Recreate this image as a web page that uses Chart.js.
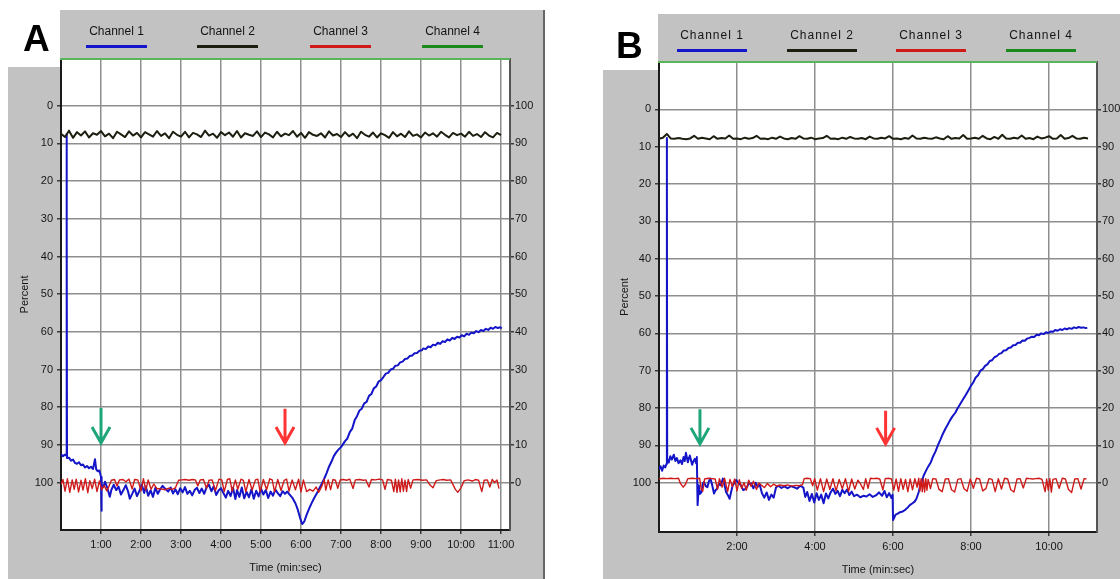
<!DOCTYPE html>
<html>
<head>
<meta charset="utf-8">
<title>Channel recordings</title>
<script src="https://cdn.jsdelivr.net/npm/chart.js@4.4.1/dist/chart.umd.min.js"></script>
<style>
  html, body { margin: 0; padding: 0; background: #fff; }
  #stage { position: relative; width: 1120px; height: 579px; overflow: hidden; font-family: "Liberation Sans", Arial, sans-serif; }
  .gray { position: absolute; background: #c2c2c2; }
  .edge { position: absolute; background: #666; }
  canvas { position: absolute; top: 0; }
  .tag { position: absolute; font: bold 37px "Liberation Sans", Arial, sans-serif; color: #000; line-height: 1; }
  .key { position: absolute; text-align: center; font-size: 12px; line-height: 14px; color: #141414; white-space: nowrap; }
  .keyline { position: absolute; height: 3px; }
</style>
</head>
<body>
<div id="stage">
  <!-- panel A frame -->
  <div class="gray" style="left:60px;top:10px;width:484px;height:569px"></div>
  <div class="gray" style="left:8px;top:67px;width:53px;height:512px"></div>
  <div class="edge" style="left:543px;top:10px;width:2px;height:569px"></div>
  <!-- panel B frame -->
  <div class="gray" style="left:658px;top:14px;width:462px;height:565px"></div>
  <div class="gray" style="left:603px;top:70px;width:56px;height:509px"></div>

  <canvas id="chartA" width="560" height="579" style="left:0"></canvas>
  <canvas id="chartB" width="560" height="579" style="left:560px"></canvas>

  <div class="tag" style="left:23px;top:20px">A</div>
  <div class="tag" style="left:616px;top:27px">B</div>
  <div id="keysA"></div>
  <div id="keysB"></div>
</div>
<script>
// channel legend
const channelNames = ['Channel 1', 'Channel 2', 'Channel 3', 'Channel 4'];
const channelColors = ['#1414c8', '#1e1e10', '#d01a1a', '#1a8a1a'];

// x ticks (minutes) and y ticks (percent)
const ticksA = [1, 2, 3, 4, 5, 6, 7, 8, 9, 10, 11];
const ticksB = [2, 4, 6, 8, 10];
const percentTicks = [0, 10, 20, 30, 40, 50, 60, 70, 80, 90, 100];

// ---------- panel A ----------
// channel 1: [minutes, percent]
const aChannel1 = [
  [0.00, 92.5], [0.05, 93.0], [0.10, 92.6], [0.13, 92.8], [0.14, 7.5], [0.145, 33.5], [0.15, 93.5],
  [0.20, 93.4], [0.25, 94.2], [0.30, 93.9], [0.35, 94.8], [0.40, 95.0], [0.45, 94.6], [0.50, 95.4],
  [0.55, 95.2], [0.60, 96.0], [0.65, 95.6], [0.70, 96.2], [0.75, 95.8], [0.80, 96.4], [0.85, 93.8],
  [0.88, 96.5], [0.92, 97.0], [0.96, 96.8], [1.00, 98.5], [1.01, 107.5], [1.02, 100.5], [1.06, 101.2],
  [1.10, 99.8], [1.16, 101.5], [1.22, 103.8], [1.26, 101.9], [1.32, 100.6], [1.38, 102.0], [1.44, 101.1],
  [1.50, 103.2], [1.56, 102.0], [1.62, 100.7], [1.68, 102.5], [1.72, 104.3], [1.78, 103.0], [1.84, 101.6],
  [1.90, 103.6], [1.96, 102.2], [2.02, 100.5], [2.08, 102.8], [2.12, 101.0], [2.18, 103.5], [2.24, 102.1],
  [2.30, 103.8], [2.36, 101.4], [2.42, 103.0], [2.48, 101.8], [2.54, 100.9], [2.60, 101.6], [2.68, 102.4],
  [2.74, 101.3], [2.80, 102.9], [2.86, 101.8], [2.92, 103.1], [2.98, 101.5], [3.04, 102.6], [3.10, 101.2],
  [3.16, 103.0], [3.22, 102.2], [3.28, 103.4], [3.34, 102.0], [3.40, 101.4], [3.46, 102.8], [3.52, 101.6],
  [3.58, 103.0], [3.64, 101.2], [3.70, 100.6], [3.76, 102.3], [3.82, 101.0], [3.88, 103.3], [3.94, 102.1],
  [4.00, 101.5], [4.06, 102.8], [4.12, 104.0], [4.18, 102.2], [4.24, 103.6], [4.30, 101.4], [4.36, 104.4],
  [4.40, 102.0], [4.46, 103.8], [4.52, 101.3], [4.58, 104.2], [4.64, 102.5], [4.70, 103.9], [4.76, 101.8],
  [4.82, 104.3], [4.88, 102.2], [4.94, 103.7], [5.00, 101.6], [5.06, 103.2], [5.12, 102.0], [5.18, 104.1],
  [5.24, 102.4], [5.30, 103.5], [5.36, 101.9], [5.42, 102.8], [5.48, 103.6], [5.54, 102.3], [5.60, 103.0],
  [5.66, 102.4], [5.70, 103.0], [5.78, 104.0], [5.86, 105.5], [5.92, 107.2], [5.98, 109.5], [6.03, 111.0],
  [6.08, 110.4], [6.14, 108.6], [6.20, 107.0], [6.26, 105.6], [6.32, 104.3], [6.40, 102.8], [6.46, 101.5],
  [6.52, 100.3], [6.58, 99.0], [6.64, 97.5], [6.70, 95.8], [6.76, 94.5], [6.82, 93.0], [6.88, 92.0],
  [6.94, 91.2], [7.00, 90.6], [7.04, 90.0], [7.10, 89.0], [7.16, 88.3], [7.22, 86.6], [7.28, 85.7],
  [7.34, 83.5], [7.40, 82.4], [7.46, 80.9], [7.52, 80.4], [7.58, 79.0], [7.64, 78.6], [7.70, 77.0],
  [7.76, 76.5], [7.82, 75.0], [7.88, 74.5], [7.94, 73.2], [8.00, 72.8], [8.06, 72.0], [8.12, 71.1],
  [8.18, 70.9], [8.24, 70.0], [8.30, 69.8], [8.36, 69.0], [8.42, 68.9], [8.48, 68.1], [8.54, 67.9],
  [8.60, 67.2], [8.66, 67.1], [8.72, 66.4], [8.78, 66.3], [8.84, 65.7], [8.90, 65.6], [8.96, 65.0],
  [9.02, 64.9], [9.06, 64.4], [9.12, 64.6], [9.18, 63.9], [9.24, 64.1], [9.30, 63.4], [9.36, 63.6],
  [9.42, 62.9], [9.48, 63.2], [9.54, 62.5], [9.60, 62.7], [9.66, 62.0], [9.72, 62.3], [9.78, 61.6],
  [9.84, 61.9], [9.90, 61.3], [9.96, 61.5], [10.02, 60.9], [10.08, 61.2], [10.14, 60.5], [10.20, 60.8],
  [10.26, 60.2], [10.32, 60.4], [10.38, 59.8], [10.44, 60.1], [10.50, 59.5], [10.56, 59.8], [10.62, 59.2],
  [10.68, 59.5], [10.74, 58.9], [10.80, 59.2], [10.86, 58.7], [10.92, 59.0], [10.98, 58.8], [11.02, 59.1]
];
// channel 2: one reading every 0.1 min from 0:00
const aChannel2 = [
  7.4, 8.3, 6.6, 8.5, 7.0, 7.9, 6.8, 8.4, 7.3, 7.7,
  6.7, 8.1, 7.4, 8.6, 6.9, 7.6, 8.3, 6.8, 7.9, 7.2,
  8.4, 7.0, 7.6, 8.2, 6.7, 8.0, 7.3, 8.6, 6.9, 7.7,
  8.2, 6.9, 8.4, 7.2, 7.6, 8.3, 6.6, 7.9, 7.4, 8.5,
  7.0, 7.8, 7.1, 8.2, 6.7, 8.4, 7.3, 7.7, 8.0, 6.8,
  8.3, 7.1, 7.6, 8.4, 6.9, 8.1, 7.4, 7.8, 6.7, 8.2,
  7.2, 8.5, 7.0, 7.7, 8.0, 7.3, 8.4, 6.8, 7.9, 7.5,
  8.3, 7.0, 8.1, 7.4, 8.6, 6.9, 7.7, 8.2, 7.1, 8.4,
  7.3, 7.8, 8.5, 7.0, 8.1, 7.4, 8.3, 6.8, 8.0, 7.6,
  8.4, 7.1, 7.9, 7.3, 8.2, 6.9, 7.7, 8.4, 7.2, 7.8,
  7.4, 8.2, 6.9, 8.0, 7.5, 8.3, 7.0, 7.9, 8.4, 7.2,
  7.8
];
// channel 3: [minutes, percent]
const aChannel3 = [
  [0.00, 100.5], [0.05, 99.2], [0.10, 102.3], [0.16, 99.0], [0.22, 102.6], [0.28, 99.3], [0.33, 101.8],
  [0.38, 99.1], [0.44, 102.5], [0.50, 99.4], [0.55, 102.0], [0.61, 99.0], [0.67, 102.7], [0.72, 99.5],
  [0.78, 101.6], [0.84, 99.1], [0.90, 102.4], [0.96, 99.6], [1.02, 101.9], [1.08, 100.8], [1.14, 102.2],
  [1.20, 101.0], [1.26, 99.4], [1.34, 99.2], [1.40, 100.9], [1.46, 99.3], [1.55, 99.2], [1.62, 99.8],
  [1.70, 99.1], [1.78, 101.7], [1.84, 99.2], [1.92, 99.3], [2.00, 102.2], [2.06, 99.0], [2.12, 102.0],
  [2.18, 99.3], [2.25, 101.8], [2.32, 100.4], [2.40, 101.6], [2.50, 101.7], [2.60, 101.9], [2.70, 101.5],
  [2.78, 101.8], [2.86, 101.4], [2.94, 99.4], [3.02, 99.3], [3.10, 99.2], [3.20, 99.4], [3.28, 99.2],
  [3.36, 99.3], [3.42, 100.9], [3.48, 99.3], [3.56, 99.2], [3.64, 101.5], [3.70, 99.4], [3.78, 99.3],
  [3.86, 102.2], [3.95, 99.1], [4.02, 99.3], [4.08, 102.4], [4.16, 99.2], [4.22, 99.0], [4.28, 102.3],
  [4.36, 99.3], [4.42, 101.8], [4.50, 99.1], [4.56, 99.4], [4.62, 102.5], [4.70, 99.2], [4.78, 102.0],
  [4.86, 99.3], [4.92, 99.1], [4.98, 102.4], [5.06, 99.2], [5.14, 101.9], [5.22, 99.0], [5.28, 99.3],
  [5.34, 102.5], [5.42, 99.2], [5.50, 102.1], [5.58, 99.4], [5.64, 99.1], [5.70, 102.3], [5.78, 99.3],
  [5.86, 101.9], [5.94, 99.1], [6.00, 102.5], [6.06, 99.3], [6.14, 102.4], [6.22, 101.8], [6.30, 102.3],
  [6.38, 101.2], [6.44, 102.6], [6.52, 101.0], [6.58, 99.2], [6.62, 102.0], [6.68, 99.3], [6.74, 101.9],
  [6.80, 99.2], [6.86, 99.4], [6.92, 101.5], [6.98, 99.3], [7.06, 99.2], [7.14, 99.4], [7.22, 99.1],
  [7.30, 101.6], [7.36, 99.3], [7.46, 99.2], [7.56, 99.4], [7.62, 99.3], [7.70, 101.2], [7.76, 99.2],
  [7.86, 99.3], [7.96, 99.1], [8.04, 99.3], [8.10, 101.8], [8.16, 99.2], [8.26, 99.4], [8.32, 102.4],
  [8.36, 99.1], [8.40, 102.6], [8.44, 99.3], [8.48, 102.5], [8.52, 99.0], [8.56, 102.3], [8.60, 99.4],
  [8.64, 102.4], [8.68, 99.2], [8.74, 101.5], [8.80, 99.3], [8.92, 99.2], [9.04, 99.4], [9.14, 99.3],
  [9.22, 100.6], [9.30, 101.4], [9.38, 99.5], [9.48, 99.3], [9.56, 99.2], [9.64, 99.4], [9.74, 99.3],
  [9.86, 101.8], [9.92, 102.6], [10.00, 101.4], [10.08, 99.5], [10.18, 99.3], [10.28, 99.6], [10.36, 99.2],
  [10.44, 99.4], [10.52, 102.4], [10.58, 99.4], [10.66, 99.3], [10.72, 101.2], [10.78, 99.2], [10.84, 100.0],
  [10.90, 99.3], [10.95, 101.6]
];
// event markers: minute, arrow start, arrow tip (percent)
const aArrowTimes = [1.0, 5.6];
const aArrowFrom = [80.2, 80.4];
const aArrowTo = [89.5, 89.5];

// ---------- panel B ----------
const bChannel1 = [
  [0.00, 96.5], [0.04, 95.6], [0.08, 96.8], [0.12, 95.4], [0.16, 95.9], [0.19, 95.0], [0.20, 7.7],
  [0.205, 19.7], [0.21, 93.6], [0.25, 94.6], [0.29, 92.9], [0.33, 93.8], [0.38, 92.5], [0.42, 94.2],
  [0.46, 93.4], [0.50, 94.8], [0.55, 94.0], [0.59, 95.0], [0.63, 93.1], [0.66, 94.2], [0.69, 92.0],
  [0.72, 93.5], [0.74, 94.5], [0.77, 93.2], [0.79, 92.7], [0.82, 94.0], [0.85, 95.2], [0.88, 94.3],
  [0.92, 93.6], [0.95, 94.8], [0.97, 93.1], [0.99, 106.0], [1.02, 100.7], [1.05, 103.0], [1.09, 102.5],
  [1.12, 100.4], [1.15, 99.8], [1.20, 100.9], [1.24, 101.2], [1.28, 99.6], [1.32, 98.9], [1.36, 100.5],
  [1.41, 102.9], [1.45, 102.0], [1.49, 101.6], [1.54, 100.2], [1.58, 100.7], [1.64, 98.9], [1.68, 100.6],
  [1.72, 102.5], [1.77, 103.4], [1.81, 104.3], [1.85, 102.4], [1.89, 100.7], [1.94, 100.0], [1.98, 99.3],
  [2.04, 100.1], [2.10, 100.7], [2.16, 102.0], [2.23, 101.6], [2.30, 100.3], [2.36, 100.2], [2.42, 101.5],
  [2.48, 100.0], [2.53, 101.1], [2.58, 100.4], [2.64, 102.8], [2.70, 104.0], [2.76, 102.6], [2.82, 104.6],
  [2.88, 103.2], [2.94, 104.0], [3.00, 101.3], [3.06, 100.8], [3.14, 101.4], [3.22, 101.0], [3.30, 101.5],
  [3.38, 100.9], [3.46, 101.2], [3.54, 101.6], [3.62, 100.8], [3.70, 101.3], [3.75, 103.8], [3.80, 102.5],
  [3.86, 104.9], [3.92, 103.0], [3.98, 105.3], [4.04, 102.8], [4.10, 104.6], [4.16, 103.2], [4.22, 105.5],
  [4.28, 102.9], [4.34, 104.2], [4.40, 102.6], [4.46, 101.6], [4.52, 103.0], [4.58, 102.2], [4.64, 103.6],
  [4.70, 101.9], [4.76, 102.8], [4.82, 101.8], [4.88, 103.3], [4.94, 102.4], [5.00, 103.6], [5.08, 103.2],
  [5.16, 103.9], [5.24, 103.5], [5.32, 103.7], [5.40, 103.1], [5.48, 103.8], [5.56, 103.4], [5.64, 102.6],
  [5.72, 103.5], [5.78, 102.2], [5.84, 103.9], [5.90, 102.8], [5.96, 104.1], [5.99, 103.2], [6.00, 110.0],
  [6.03, 109.4], [6.06, 108.6], [6.12, 108.3], [6.18, 107.9], [6.25, 107.7], [6.32, 107.2], [6.38, 106.6],
  [6.43, 106.0], [6.50, 105.5], [6.56, 105.0], [6.60, 104.3], [6.66, 102.5], [6.70, 100.7], [6.75, 99.2],
  [6.79, 98.0], [6.84, 96.9], [6.90, 95.7], [6.97, 94.5], [7.03, 92.9], [7.09, 91.6], [7.15, 90.0],
  [7.21, 88.6], [7.27, 87.1], [7.34, 85.6], [7.40, 84.5], [7.46, 83.3], [7.52, 82.3], [7.60, 81.2],
  [7.66, 80.0], [7.72, 79.0], [7.80, 77.6], [7.86, 76.6], [7.92, 75.5], [8.00, 74.0], [8.06, 73.1],
  [8.12, 71.8], [8.18, 71.2], [8.24, 70.0], [8.30, 69.6], [8.36, 68.7], [8.42, 68.3], [8.48, 67.4],
  [8.54, 67.2], [8.60, 66.4], [8.66, 66.1], [8.72, 65.5], [8.78, 65.3], [8.84, 64.6], [8.90, 64.5],
  [8.96, 63.9], [9.02, 63.8], [9.08, 63.2], [9.14, 63.1], [9.20, 62.5], [9.26, 62.5], [9.32, 61.9],
  [9.38, 62.0], [9.44, 61.4], [9.50, 61.2], [9.56, 60.9], [9.62, 61.0], [9.68, 60.4], [9.74, 60.5],
  [9.80, 60.0], [9.86, 60.2], [9.92, 59.7], [9.98, 59.9], [10.04, 59.5], [10.10, 59.6], [10.16, 59.1],
  [10.22, 59.3], [10.28, 58.9], [10.34, 59.1], [10.40, 58.7], [10.46, 58.9], [10.52, 58.6], [10.58, 58.8],
  [10.64, 58.4], [10.70, 58.6], [10.76, 58.3], [10.82, 58.5], [10.88, 58.4], [10.94, 58.6], [10.98, 58.5]
];
const bChannel2 = [
  7.9, 7.6, 6.6, 7.8, 7.9, 7.7, 7.9, 8.0, 7.8, 7.1,
  7.9, 7.6, 7.8, 8.0, 7.2, 7.9, 7.7, 7.8, 7.0, 7.9,
  7.8, 8.0, 7.6, 7.9, 7.7, 7.1, 7.9, 7.8, 8.0, 7.6,
  7.9, 7.3, 7.8, 8.0, 7.7, 7.9, 7.2, 7.8, 7.9, 7.6,
  8.0, 7.8, 7.7, 7.1, 7.9, 7.8, 8.0, 7.6, 7.9, 7.4,
  7.8, 7.9, 7.7, 8.0, 7.3, 7.8, 7.9, 7.6, 7.8, 7.2,
  7.9, 7.8, 8.0, 7.7, 7.9, 7.0, 7.8, 7.9, 7.6, 7.8,
  7.9, 7.5, 7.8, 8.0, 7.2, 7.9, 7.7, 7.8, 6.9, 7.9,
  7.8, 7.6, 7.9, 7.1, 7.8, 8.0, 7.4, 7.9, 6.8, 7.8,
  7.9, 7.6, 7.8, 7.0, 7.9, 7.7, 8.0, 7.3, 7.8, 7.6,
  7.2, 7.9, 7.8, 6.9, 7.9, 7.7, 7.1, 7.8, 7.9, 7.6,
  7.8
];
const bChannel3 = [
  [0.00, 99.0], [0.10, 98.8], [0.20, 98.9], [0.30, 98.8], [0.40, 98.9], [0.50, 98.8], [0.55, 100.2],
  [0.62, 101.2], [0.68, 100.4], [0.74, 98.9], [0.85, 98.8], [0.95, 98.9], [1.04, 98.8], [1.08, 101.5],
  [1.12, 102.3], [1.17, 99.0], [1.26, 98.8], [1.36, 98.9], [1.44, 99.0], [1.50, 101.8], [1.55, 98.9],
  [1.62, 101.2], [1.68, 98.8], [1.76, 102.4], [1.82, 99.1], [1.88, 101.0], [1.94, 99.0], [2.00, 102.2],
  [2.06, 99.2], [2.12, 101.5], [2.18, 100.0], [2.24, 102.0], [2.30, 99.3], [2.36, 101.0], [2.42, 99.6],
  [2.50, 101.8], [2.56, 100.1], [2.62, 100.6], [2.70, 101.3], [2.78, 100.2], [2.86, 101.1], [2.94, 100.4],
  [3.02, 100.9], [3.10, 100.6], [3.20, 100.8], [3.30, 100.6], [3.40, 100.9], [3.50, 100.7], [3.60, 100.8],
  [3.68, 100.5], [3.72, 98.9], [3.80, 98.8], [3.88, 98.9], [3.94, 100.8], [3.99, 98.9], [4.06, 102.0],
  [4.14, 98.9], [4.22, 102.4], [4.30, 99.0], [4.38, 101.8], [4.46, 98.9], [4.54, 102.2], [4.62, 99.1],
  [4.70, 101.6], [4.78, 98.9], [4.86, 102.3], [4.94, 99.0], [5.02, 101.7], [5.10, 99.3], [5.16, 100.2],
  [5.24, 101.8], [5.30, 98.9], [5.36, 101.5], [5.42, 98.8], [5.50, 98.9], [5.58, 98.8], [5.66, 99.0],
  [5.74, 101.9], [5.80, 98.9], [5.88, 98.8], [5.96, 99.0], [6.02, 102.0], [6.08, 99.0], [6.14, 102.3],
  [6.20, 98.9], [6.26, 101.8], [6.32, 99.1], [6.38, 102.4], [6.44, 99.0], [6.50, 101.9], [6.56, 98.9],
  [6.62, 101.2], [6.66, 98.8], [6.69, 102.2], [6.72, 98.9], [6.75, 102.4], [6.78, 99.0], [6.81, 102.5],
  [6.84, 98.9], [6.87, 102.0], [6.90, 99.1], [6.96, 101.6], [7.02, 98.9], [7.10, 99.0], [7.18, 101.8],
  [7.26, 102.4], [7.34, 99.0], [7.42, 98.9], [7.50, 101.9], [7.58, 102.5], [7.66, 99.1], [7.74, 98.9],
  [7.82, 101.6], [7.90, 102.3], [7.98, 99.0], [8.06, 101.5], [8.14, 98.8], [8.22, 99.0], [8.30, 102.2],
  [8.38, 101.6], [8.46, 98.9], [8.54, 99.1], [8.62, 102.4], [8.70, 98.9], [8.78, 101.7], [8.86, 98.8],
  [8.94, 99.0], [9.02, 101.9], [9.10, 102.5], [9.18, 99.0], [9.26, 98.9], [9.34, 101.4], [9.42, 98.8],
  [9.50, 98.9], [9.58, 99.0], [9.66, 98.9], [9.74, 98.8], [9.82, 99.1], [9.90, 102.4], [9.94, 99.0],
  [9.98, 102.0], [10.02, 98.9], [10.06, 102.5], [10.10, 99.1], [10.18, 98.9], [10.26, 101.5], [10.34, 98.8],
  [10.42, 99.0], [10.50, 101.8], [10.58, 102.6], [10.66, 99.0], [10.74, 98.9], [10.82, 101.7], [10.90, 98.9],
  [10.96, 99.0]
];
const bArrowTimes = [1.05, 5.81];
const bArrowFrom = [80.3, 80.7];
const bArrowTo = [89.6, 89.6];

const arrowColors = ['#1ea67a', '#ff3434'];
const channel2Step = 0.1;

Chart.defaults.font.family = '"Liberation Sans", Arial, sans-serif';
Chart.defaults.font.size = 11;
Chart.defaults.color = '#161616';

function pairs(list) {
  return list.map(([x, y]) => ({ x: x, y: y }));
}
function stepped(values, step) {
  return values.map((v, i) => ({ x: i * step, y: v }));
}

// white plotting field, green top rule and the event arrows
function makeFrame(times, from, to) {
  return {
    id: 'plotFrame',
    beforeDraw(chart) {
      const { ctx, chartArea: a } = chart;
      ctx.save();
      ctx.fillStyle = '#ffffff';
      ctx.fillRect(a.left, a.top, a.right - a.left, a.bottom - a.top);
      ctx.restore();
    },
    afterDraw(chart) {
      const { ctx, chartArea: a, scales } = chart;
      ctx.save();
      ctx.strokeStyle = '#5ab45a';
      ctx.lineWidth = 2;
      ctx.beginPath();
      ctx.moveTo(a.left - 1, a.top);
      ctx.lineTo(a.right, a.top);
      ctx.stroke();

      ctx.lineWidth = 3;
      times.forEach((t, i) => {
        const x = scales.x.getPixelForValue(t);
        const y0 = scales.y.getPixelForValue(from[i]);
        const y1 = scales.y.getPixelForValue(to[i]);
        ctx.strokeStyle = arrowColors[i];
        ctx.beginPath();
        ctx.moveTo(x, y0);
        ctx.lineTo(x, y1);
        ctx.moveTo(x - 9, y1 - 16);
        ctx.lineTo(x, y1);
        ctx.lineTo(x + 9, y1 - 16);
        ctx.stroke();
      });
      ctx.restore();
    }
  };
}

function makePanel(p) {
  const setTicks = list => axis => { axis.ticks = list.map(v => ({ value: v })); };
  return new Chart(document.getElementById(p.id), {
    type: 'line',
    data: {
      datasets: [
        { label: channelNames[0], data: pairs(p.ch1), borderColor: channelColors[0], borderWidth: 2, order: 2 },
        { label: channelNames[1], data: stepped(p.ch2, channel2Step), borderColor: channelColors[1], borderWidth: 2, order: 1 },
        { label: channelNames[2], data: pairs(p.ch3), borderColor: channelColors[2], borderWidth: 1.4, order: 0 }
      ]
    },
    options: {
      responsive: false,
      animation: false,
      events: [],
      elements: { point: { radius: 0 }, line: { tension: 0, borderJoinStyle: 'round' } },
      layout: { padding: { left: p.padLeft, top: p.top, right: 0, bottom: 0 } },
      plugins: { legend: { display: false }, tooltip: { enabled: false } },
      scales: {
        x: {
          type: 'linear', min: 0, max: p.xMax,
          afterBuildTicks: setTicks(p.xTicks),
          afterFit: axis => { axis.height = p.bottomH; },
          ticks: { callback: v => v + ':00', autoSkip: false, maxRotation: 0, padding: 4 },
          grid: { color: '#8e8e8e', lineWidth: 1.5, tickLength: 4, tickColor: '#3a3a3a' },
          border: { color: '#1a1a1a', width: 2 },
          title: { display: true, text: 'Time (min:sec)', padding: { top: 0, bottom: p.xTitlePad } }
        },
        y: {
          position: 'left', reverse: true, min: p.yMin, max: p.yMax,
          afterBuildTicks: setTicks(percentTicks),
          afterFit: axis => { axis.width = p.leftW; },
          ticks: { autoSkip: false, padding: 4 },
          grid: { color: '#8e8e8e', lineWidth: 1.5, tickLength: 4, tickColor: '#3a3a3a' },
          border: { color: '#1a1a1a', width: 2 },
          title: { display: true, text: 'Percent', padding: { top: p.yTitlePad, bottom: 0 } }
        },
        y2: {
          position: 'right', min: 100 - p.yMax, max: 100 - p.yMin,
          afterBuildTicks: setTicks(percentTicks),
          afterFit: axis => { axis.width = p.rightW; },
          ticks: { autoSkip: false, padding: 1 },
          grid: { drawOnChartArea: false, lineWidth: 1.5, tickLength: 4, tickColor: '#3a3a3a' },
          border: { color: '#555555', width: 2 }
        }
      }
    },
    plugins: [makeFrame(p.arrowTimes, p.arrowFrom, p.arrowTo)]
  });
}

// legend strip above each plot
function drawKeys(holder, lineLefts, lineWidth, lineTop, textTop, spacing) {
  const el = document.getElementById(holder);
  lineLefts.forEach((left, i) => {
    const label = document.createElement('div');
    label.className = 'key';
    label.style.left = (left - 10) + 'px';
    label.style.width = (lineWidth + 20) + 'px';
    label.style.top = textTop + 'px';
    label.style.letterSpacing = spacing + 'px';
    label.textContent = channelNames[i];
    const line = document.createElement('div');
    line.className = 'keyline';
    line.style.left = left + 'px';
    line.style.width = lineWidth + 'px';
    line.style.top = lineTop + 'px';
    line.style.background = channelColors[i];
    el.appendChild(label);
    el.appendChild(line);
  });
}

drawKeys('keysA', [86, 197, 310, 422], 61, 45, 24, 0);
drawKeys('keysB', [677, 787, 896, 1006], 70, 49, 28, 1);

makePanel({
  id: 'chartA', ch1: aChannel1, ch2: aChannel2, ch3: aChannel3,
  xTicks: ticksA, xMax: 11.225, yMin: -12.42, yMax: 112.6,
  padLeft: 0, top: 59, leftW: 61, rightW: 50, bottomH: 49,
  xTitlePad: 4, yTitlePad: 18,
  arrowTimes: aArrowTimes, arrowFrom: aArrowFrom, arrowTo: aArrowTo
});
makePanel({
  id: 'chartB', ch1: bChannel1, ch2: bChannel2, ch3: bChannel3,
  xTicks: ticksB, xMax: 11.23, yMin: -12.67, yMax: 113.2,
  padLeft: 44, top: 62, leftW: 55, rightW: 23, bottomH: 47,
  xTitlePad: 2.4, yTitlePad: 14,
  arrowTimes: bArrowTimes, arrowFrom: bArrowFrom, arrowTo: bArrowTo
});
</script>
</body>
</html>
